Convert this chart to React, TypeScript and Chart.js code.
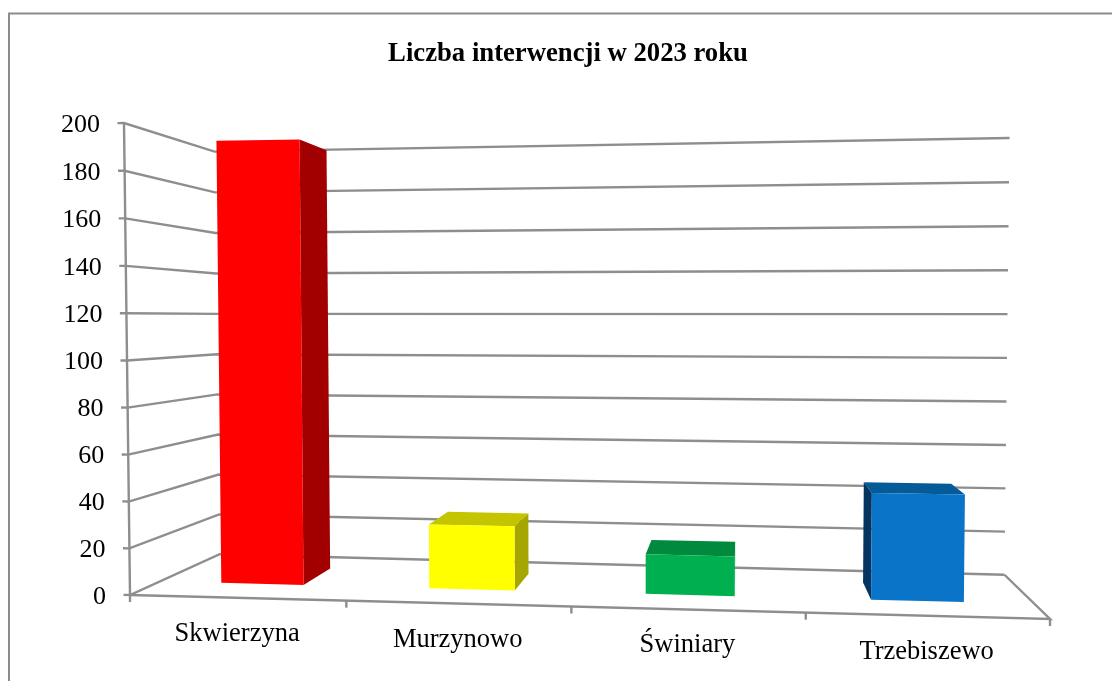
import React, { useEffect, useRef } from "react";
import { Chart, registerables } from "chart.js";

Chart.register(...registerables);

const categories = ["Skwierzyna", "Murzynowo", "Świniary", "Trzebiszewo"];
const values = [196, 28, 17, 45];
const frontColors = ["#FF0000", "#FFFF00", "#00B050", "#0A75C8"];
const topColors = ["#C80000", "#C4C400", "#008A3E", "#055A98"];
const sideColors = ["#A20000", "#A6A600", "#007A36", "#033560"];
const chartTitle = "Liczba interwencji w 2023 roku";

const SERIF = '"Liberation Serif", "Times New Roman", serif';
const GRID = "#8E8E8E";

// Perspective model of the 3D box
const QUAD = { bl: [130, 595], br: [1050, 619], tr: [1056, 107], tl: [124, 123] };
const VP = [740, 318];
const T_WALL = 0.147;
const T_BAR_FRONT = 0.05;
const T_BAR_BACK = 0.108;

function makeProjector(area: any) {
  const [x0, y0] = QUAD.bl;
  const [x1, y1] = QUAD.br;
  const [x2, y2] = QUAD.tr;
  const [x3, y3] = QUAD.tl;
  const dx1 = x1 - x2, dx2 = x3 - x2, sx = x0 - x1 + x2 - x3;
  const dy1 = y1 - y2, dy2 = y3 - y2, sy = y0 - y1 + y2 - y3;
  const den = dx1 * dy2 - dx2 * dy1;
  const g = (sx * dy2 - dx2 * sy) / den;
  const h = (dx1 * sy - sx * dy1) / den;
  const a = x1 - x0 + g * x1, b = x3 - x0 + h * x3;
  const d = y1 - y0 + g * y1, e = y3 - y0 + h * y3;
  return (px: number, py: number, t: number) => {
    const s = (px - area.left) / (area.right - area.left);
    const w = (area.bottom - py) / (area.bottom - area.top);
    const q = g * s + h * w + 1;
    const X = (a * s + b * w + x0) / q;
    const Y = (d * s + e * w + y0) / q;
    return [X + (VP[0] - X) * t, Y + (VP[1] - Y) * t];
  };
}

function poly(ctx: CanvasRenderingContext2D, pts: number[][], fill?: string) {
  ctx.beginPath();
  pts.forEach((p, i) => (i ? ctx.lineTo(p[0], p[1]) : ctx.moveTo(p[0], p[1])));
  if (fill) {
    ctx.closePath();
    ctx.fillStyle = fill;
    ctx.fill();
  }
}

const box3d = {
  id: "box3d",
  beforeDraw(chart: any) {
    const { ctx, chartArea: area, scales } = chart;
    const P = makeProjector(area);
    ctx.save();
    // outer frame
    ctx.strokeStyle = "#8C8C8C";
    ctx.lineWidth = 2;
    ctx.beginPath();
    ctx.moveTo(9, chart.height + 2);
    ctx.lineTo(9, 13.5);
    ctx.lineTo(chart.width + 2, 13.5);
    ctx.stroke();

    ctx.strokeStyle = GRID;
    ctx.lineWidth = 2.4;
    ctx.lineJoin = "miter";
    // gridlines on the side wall and the back wall
    scales.y.ticks.forEach((tk: any) => {
      const py = scales.y.getPixelForValue(tk.value);
      poly(ctx, [
        P(area.left - 7.5, py, 0),
        P(area.left, py, 0),
        P(area.left, py, T_WALL),
        P(area.right, py, T_WALL),
      ]);
      ctx.stroke();
    });
    // vertical axis
    poly(ctx, [P(area.left, area.top, 0), P(area.left, area.bottom, 0)]);
    ctx.stroke();
    // floor front edge and right edge
    poly(ctx, [
      P(area.left, area.bottom, 0),
      P(area.right, area.bottom, 0),
      P(area.right, area.bottom, T_WALL),
    ]);
    ctx.stroke();
    // category ticks
    const n = categories.length;
    for (let i = 0; i <= n; i++) {
      const px = area.left + ((area.right - area.left) * i) / n;
      const p = P(px, area.bottom, 0);
      poly(ctx, [p, [p[0], p[1] + 7]]);
      ctx.stroke();
    }
    ctx.restore();
  },
  beforeDatasetDraw(chart: any, args: any) {
    const { ctx, chartArea: area } = chart;
    const P = makeProjector(area);
    const meta = chart.getDatasetMeta(args.index);
    meta.data.forEach((el: any, i: number) => {
      const l = el.x - el.width / 2;
      const r = el.x + el.width / 2;
      const top = el.y;
      const base = el.base;
      const ftl = P(l, top, T_BAR_FRONT), ftr = P(r, top, T_BAR_FRONT);
      const fbl = P(l, base, T_BAR_FRONT), fbr = P(r, base, T_BAR_FRONT);
      const btl = P(l, top, T_BAR_BACK), btr = P(r, top, T_BAR_BACK);
      const bbl = P(l, base, T_BAR_BACK), bbr = P(r, base, T_BAR_BACK);
      if (btl[1] < ftl[1]) poly(ctx, [ftl, ftr, btr, btl], topColors[i]);
      if (btr[0] > ftr[0]) poly(ctx, [ftr, btr, bbr, fbr], sideColors[i]);
      if (btl[0] < ftl[0]) poly(ctx, [ftl, btl, bbl, fbl], sideColors[i]);
      poly(ctx, [ftl, ftr, fbr, fbl], frontColors[i]);
    });
    return false;
  },
  afterDraw(chart: any) {
    const { ctx, chartArea: area, scales } = chart;
    const P = makeProjector(area);
    ctx.save();
    ctx.fillStyle = "#000";
    ctx.textBaseline = "middle";
    // category labels follow the tilted front edge of the floor
    ctx.font = `26.5px ${SERIF}`;
    ctx.textAlign = "center";
    categories.forEach((_, i) => {
      const p = P(scales.x.getPixelForValue(i), area.bottom, 0);
      ctx.fillText(scales.x.getLabelForValue(i), p[0], p[1] + 36);
    });
    // value labels follow the tilted vertical axis
    ctx.font = `26px ${SERIF}`;
    ctx.textAlign = "right";
    scales.y.ticks.forEach((tk: any) => {
      const py = scales.y.getPixelForValue(tk.value);
      const p = P(area.left, py, 0);
      ctx.fillText(String(tk.value), p[0] - 24, p[1] + 2);
    });
    ctx.restore();
  },
};

export default function App() {
  const ref = useRef<HTMLCanvasElement>(null);
  useEffect(() => {
    const chart = new Chart(ref.current as HTMLCanvasElement, {
      type: "bar",
      data: {
        labels: categories,
        datasets: [
          {
            label: chartTitle,
            data: values,
            backgroundColor: frontColors,
            categoryPercentage: 1,
            barPercentage: 0.4,
          },
        ],
      },
      options: {
        responsive: false,
        animation: false,
        layout: { padding: { left: 24, right: 0, top: 38, bottom: 0 } },
        plugins: {
          legend: { display: false },
          tooltip: { enabled: false },
          title: {
            display: true,
            text: chartTitle,
            color: "#000",
            font: { family: SERIF, size: 26.7, weight: "bold", lineHeight: 1.2 },
            padding: { top: 0, bottom: 52.96 },
          },
        },
        scales: {
          x: {
            grid: { display: false },
            border: { display: false },
            ticks: { display: false },
            afterFit: (s: any) => { s.height = 86; },
          },
          y: {
            min: 0,
            max: 200,
            grid: { display: false, drawTicks: false },
            border: { display: false },
            ticks: { stepSize: 20, display: false },
            afterFit: (s: any) => { s.width = 106; },
          },
        },
      },
      plugins: [box3d],
    } as any);
    return () => chart.destroy();
  }, []);
  return (
    <div style={{ position: "absolute", left: 0, top: 0, width: 1112, height: 681, overflow: "hidden", background: "#fff" }}>
      <canvas ref={ref} width={1112} height={681} style={{ display: "block" }} />
    </div>
  );
}
